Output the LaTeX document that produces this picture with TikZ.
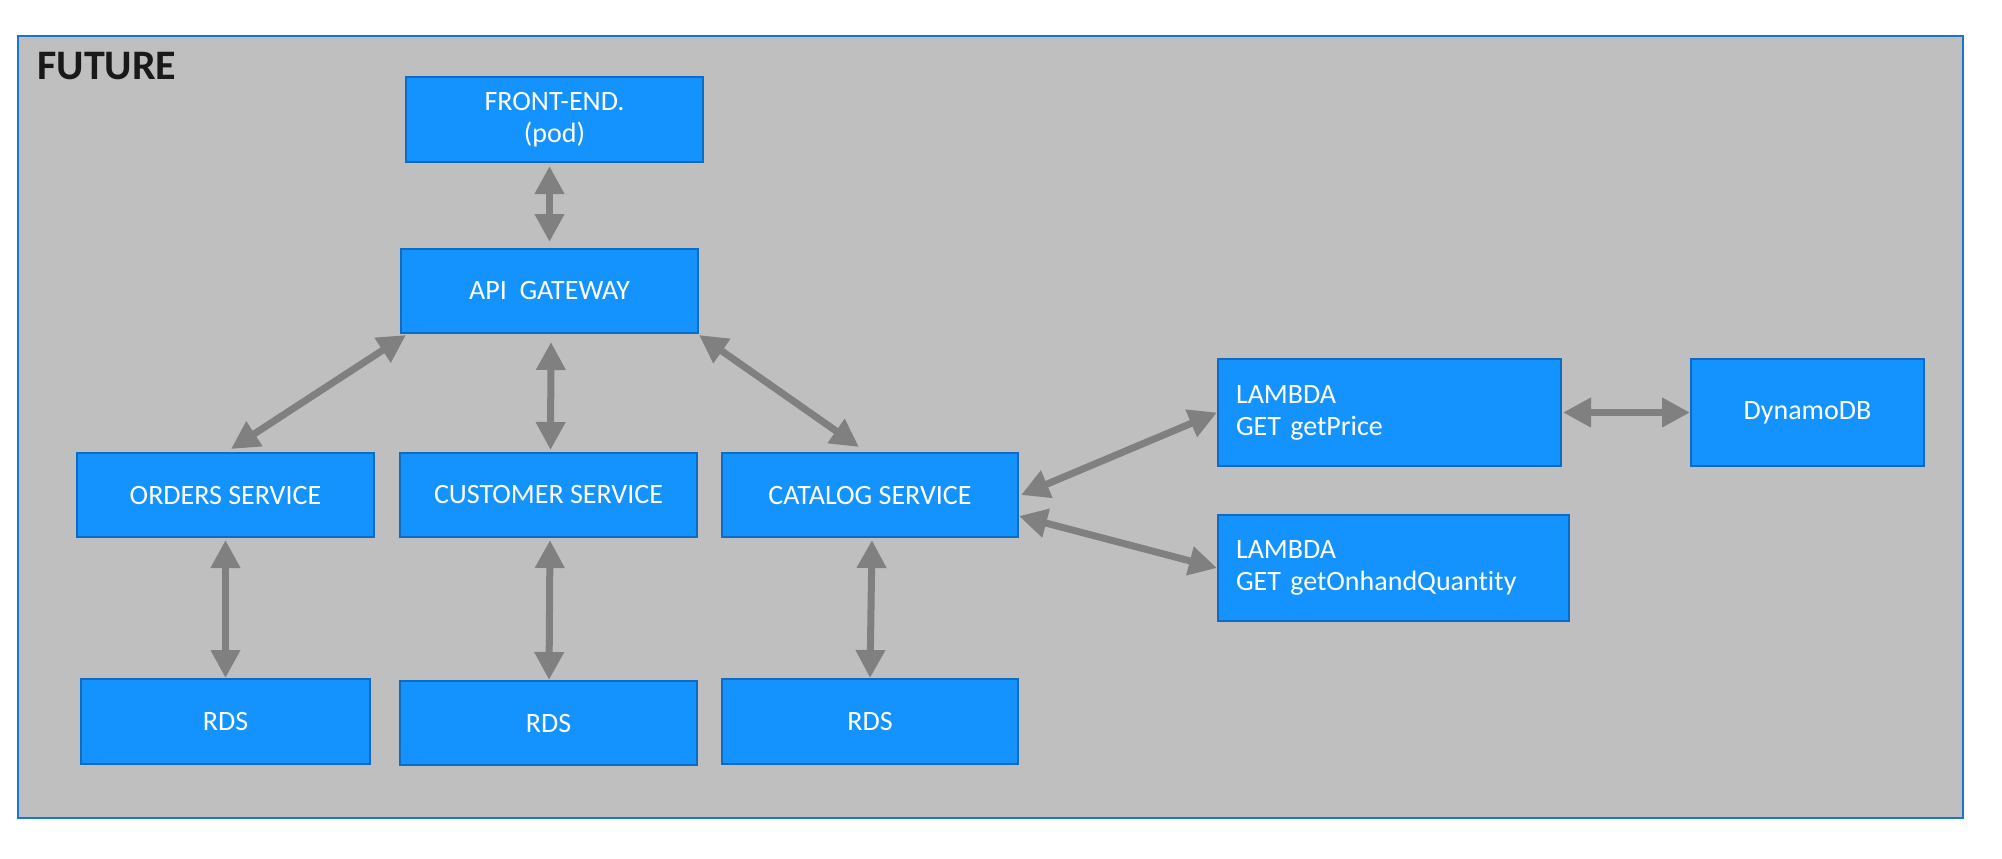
\documentclass[tikz,border=0pt]{standalone}
\usepackage{fontspec}
\setmainfont{Carlito}[Ligatures=NoCommon]
\usetikzlibrary{arrows.meta,calc}
\definecolor{boxblue}{HTML}{1493FF}
\definecolor{boxedge}{HTML}{0E6BC4}
\definecolor{framebg}{HTML}{BFBFBF}
\definecolor{frameedge}{HTML}{1B75D0}
\definecolor{arrowgray}{HTML}{808080}
\tikzset{
  svc/.style={draw=boxedge, fill=boxblue, line width=1pt, inner sep=0pt,
    text=white, font=\fontsize{14}{16}\selectfont, align=center},
  lam/.style={draw=boxedge, fill=boxblue, line width=1pt, inner xsep=9pt, inner ysep=0pt,
    text=white, font=\fontsize{14}{16}\selectfont, align=left},
  biarrow/.style={draw=arrowgray, line width=3.5pt,
    {Triangle[width=14pt,length=14pt]}-{Triangle[width=14pt,length=14pt]}}
}
\begin{document}
\begin{tikzpicture}[x=0.5pt,y=-0.5pt]
\useasboundingbox (0,0) rectangle (2002,858);
\fill[white] (0,0) rectangle (2002,858);
\draw[frameedge, fill=framebg, line width=1.2pt] (18,36) rectangle (1963,818);
\node[anchor=north west, inner sep=0pt, font=\bfseries\fontsize{21}{24}\selectfont, text=black!90] (title) at (37,52) {FUTURE};

\node[svc, minimum width=148.5pt, minimum height=42.5pt] (fe) at (554.5,119.5) {FRONT-END.\\(pod)};
\node[svc, minimum width=148.5pt, minimum height=42pt] (api) at (549.5,291) {API\ \ GATEWAY};
\node[svc, minimum width=148.5pt, minimum height=42pt] (orders) at (225.5,495) {ORDERS SERVICE};
\node[svc, minimum width=148.5pt, minimum height=42pt] (customer) at (548.5,495) {CUSTOMER SERVICE};
\node[svc, minimum width=148pt, minimum height=42pt] (catalog) at (870,495) {CATALOG SERVICE};
\node[svc, minimum width=144.5pt, minimum height=42.5pt] (rds1) at (225.5,721.5) {RDS};
\node[svc, minimum width=148.5pt, minimum height=42pt] (rds2) at (548.5,723) {RDS};
\node[svc, minimum width=148pt, minimum height=42.5pt] (rds3) at (870,721.5) {RDS};
\node[lam, text width=153.5pt, minimum height=53.5pt] (lambda1) at (1389.5,412.5) {LAMBDA\\GET getPrice};
\node[svc, minimum width=116.5pt, minimum height=53.5pt] (dynamo) at (1807.5,412.5) {DynamoDB};
\node[lam, text width=157.5pt, minimum height=53pt] (lambda2) at (1393.5,568) {LAMBDA\\GET getOnhandQuantity};

\draw[biarrow] ([yshift=-1.5pt]api.north |- fe.south) -- ([yshift=3pt]api.north);
\draw[biarrow] ([xshift=3pt,yshift=-0.5pt]api.south west) -- ([xshift=2.75pt,yshift=1.5pt]orders.north);
\draw[biarrow] ([xshift=0.75pt,yshift=-4pt]api.south) -- ([xshift=1pt,yshift=1pt]customer.north);
\draw[biarrow] ([yshift=-0.5pt]api.south east) -- ([xshift=-5.5pt,yshift=2.5pt]catalog.north);
\draw[biarrow] ([yshift=-1pt]orders.south) -- (rds1.north);
\draw[biarrow] ([xshift=0.75pt,yshift=-1pt]customer.south) -- ([xshift=0.25pt]rds2.north);
\draw[biarrow] ([xshift=1pt,yshift=-1pt]catalog.south) -- (rds3.north);
\draw[biarrow] ([xshift=1pt]catalog.east) -- (lambda1.west);
\draw[biarrow] ([yshift=-10.5pt]catalog.east) -- (lambda2.west);
\draw[biarrow] ([xshift=0.5pt]lambda1.east) -- (dynamo.west);
\end{tikzpicture}
\end{document}
